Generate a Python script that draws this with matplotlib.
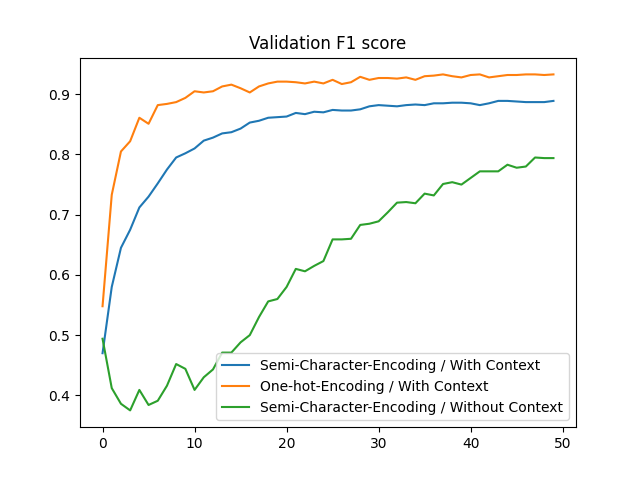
import matplotlib
matplotlib.use("Agg")
import matplotlib.pyplot as plt

epochs = list(range(50))
semi_ctx = [0.47,0.58,0.645,0.675,0.712,0.73,0.752,0.775,0.795,0.802,0.81,0.823,0.828,0.835,0.837,0.843,0.853,0.856,0.861,0.862,
            0.863,0.869,0.867,0.871,0.870,0.874,0.873,0.873,0.875,0.880,0.882,0.881,0.880,0.882,0.883,0.882,0.885,0.885,0.886,0.886,
            0.885,0.882,0.885,0.889,0.889,0.888,0.887,0.887,0.887,0.889]
onehot_ctx = [0.548,0.733,0.805,0.822,0.861,0.851,0.882,0.884,0.887,0.894,0.905,0.903,0.905,0.913,0.916,0.910,0.903,0.913,0.918,0.921,
              0.921,0.920,0.918,0.921,0.918,0.924,0.917,0.920,0.929,0.924,0.927,0.927,0.926,0.928,0.924,0.930,0.931,0.933,0.930,0.928,
              0.932,0.933,0.928,0.930,0.932,0.932,0.933,0.933,0.932,0.933]
semi_noctx = [0.494,0.412,0.386,0.375,0.409,0.384,0.391,0.416,0.452,0.444,0.409,0.430,0.443,0.471,0.471,0.488,0.50,0.53,0.556,0.56,
              0.58,0.61,0.606,0.615,0.623,0.659,0.659,0.66,0.683,0.685,0.689,0.704,0.72,0.721,0.719,0.735,0.732,0.751,0.754,0.75,
              0.761,0.772,0.772,0.772,0.783,0.778,0.78,0.795,0.794,0.794]

fig, ax = plt.subplots(figsize=(6.4, 4.8), dpi=100)
ax.plot(epochs, semi_ctx, label="Semi-Character-Encoding / With Context")
ax.plot(epochs, onehot_ctx, label="One-hot-Encoding / With Context")
ax.plot(epochs, semi_noctx, label="Semi-Character-Encoding / Without Context")
ax.set_title("Validation F1 score")
ax.legend(loc="lower right")
fig.savefig("out.png")
